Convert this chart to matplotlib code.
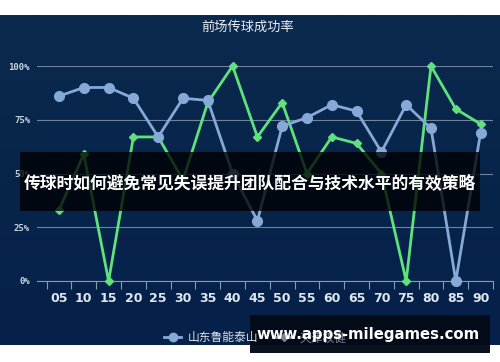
import numpy as np
import matplotlib
matplotlib.use('Agg')
import matplotlib.pyplot as plt
from matplotlib.lines import Line2D
from matplotlib.patches import Rectangle
from matplotlib.colors import LinearSegmentedColormap

plt.rcParams['font.family'] = ['Noto Sans CJK SC', 'DejaVu Sans']

# === Data ===
minutes = ['05', '10', '15', '20', '25', '30', '35', '40', '45',
           '50', '55', '60', '65', '70', '75', '80', '85', '90']
luneng = [86, 90, 90, 85, 67, 85, 84, 50, 28, 72, 76, 82, 79, 60, 82, 71, 0, 69]
quanjian = [33, 59, 0, 67, 67, 47, 83, 100, 67, 83, 50, 67, 64, 50, 0, 100, 80, 73]
ytick_vals = [0, 25, 50, 75, 100]
ytick_labels = ['0%', '25%', '50%', '75%', '100%']

BLUE = '#86a9d8'
GREEN = '#5fe27c'
GRID = '#8a9bb0'

W, H = 500, 362
fig = plt.figure(figsize=(5, 3.62), dpi=100, facecolor='white')

# dark panel background with a soft vertical gradient
bg = fig.add_axes([0, 17 / H, 1, 1 - 32 / H], zorder=0)
grad = LinearSegmentedColormap.from_list('bg', ['#05214a', '#07244b', '#0c2a4e'])
bg.imshow(np.linspace(0, 1, 256).reshape(-1, 1), aspect='auto', cmap=grad,
          origin='lower', extent=[0, 1, 0, 1])
bg.set_axis_off()

ax = fig.add_axes([37 / W, (H - 281) / H, (493 - 37) / W, (281 - 66) / H], zorder=1)
ax.patch.set_alpha(0)
x = np.arange(len(minutes))

ax.plot(x, luneng, color=BLUE, lw=2, marker='o', ms=7, zorder=4, clip_on=False)
ax.plot(x, quanjian, color=GREEN, lw=2, marker='D', ms=4.5, zorder=3, clip_on=False)

ax.set_xlim(-0.887, len(minutes) - 0.5)
ax.set_ylim(0, 100)
ax.set_yticks(ytick_vals)
ax.set_yticklabels(ytick_labels, fontsize=6.5, color='#c9d5e2',
                   family='DejaVu Sans Mono', fontweight='bold')
ax.set_xticks(x)
ax.set_xticklabels(minutes, fontsize=9, color='#dfe7f0', fontweight='bold', family='DejaVu Sans')
ax.set_xticks(np.arange(-0.5, len(minutes)), minor=True)
ax.tick_params(axis='x', which='major', length=0, pad=8)
ax.tick_params(axis='x', which='minor', length=6, color=GRID, width=0.8, direction='out')
ax.tick_params(axis='y', length=0, pad=5)
ax.grid(axis='y', color=GRID, lw=0.8, alpha=0.8)
for s in ['top', 'right', 'left']:
    ax.spines[s].set_visible(False)
ax.spines['bottom'].set_color(GRID)
ax.spines['bottom'].set_linewidth(0.8)

fig.text(0.496, 1 - 27 / H, '前场传球成功率', ha='center', va='center',
         fontsize=9.5, color='#e8eef5')

# legend
handles = [Line2D([], [], color=BLUE, lw=2, marker='o', ms=6),
           Line2D([], [], color='#7a8594', lw=2, marker='D', ms=4)]
leg = fig.legend(handles, ['山东鲁能泰山', '天津权健'], loc='center',
                 bbox_to_anchor=(0.51, 1 - 338 / H), ncol=2, frameon=False,
                 fontsize=8.5, handlelength=1.5, columnspacing=1.5, handletextpad=0.5)
leg.get_texts()[0].set_color('#dbe3ec')
leg.get_texts()[1].set_color('#7a8594')

# overlay banner
fig.patches.append(Rectangle((20 / W, 1 - 211 / H), 460 / W, 59 / H,
                             transform=fig.transFigure, facecolor='black',
                             alpha=0.78, zorder=5))
fig.text(0.5, 1 - 183 / H, '传球时如何避免常见失误提升团队配合与技术水平的有效策略',
         ha='center', va='center', fontsize=12.1, fontweight='bold',
         color='white', zorder=6)

# watermark box
fig.patches.append(Rectangle((250 / W, 1 - 353 / H), 240 / W, 38 / H,
                             transform=fig.transFigure, facecolor='#030a17',
                             alpha=0.97, zorder=5))
fig.text(368 / W, 1 - 335 / H, 'www.apps-milegames.com', ha='center', va='center',
         fontsize=10.7, fontweight='bold', color='white', family='DejaVu Sans', zorder=6)

plt.savefig('out.png', dpi=100, facecolor='white')
